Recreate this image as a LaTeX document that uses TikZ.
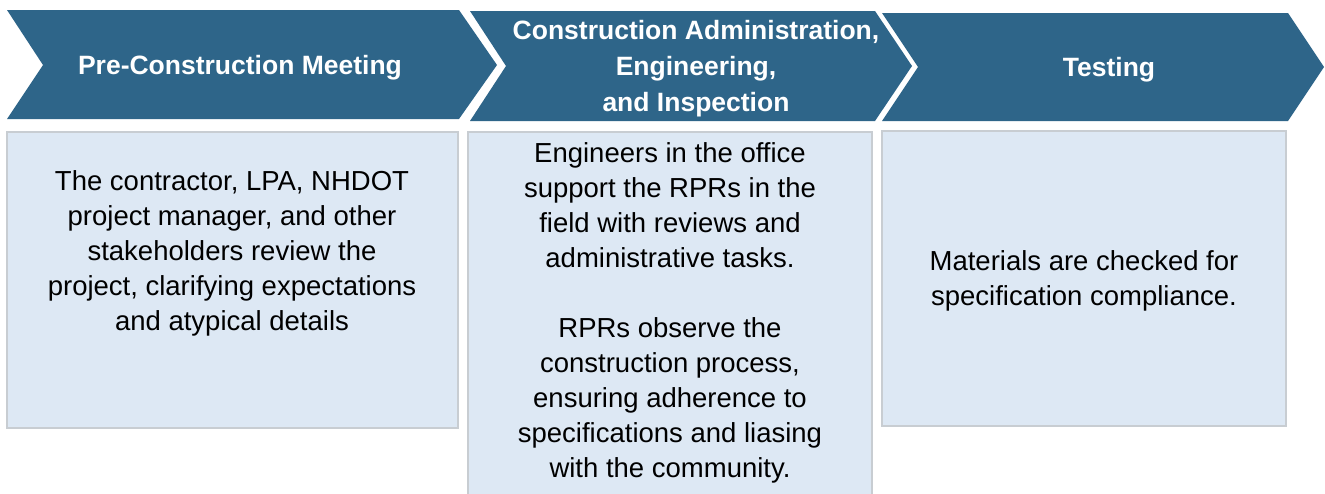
\documentclass[tikz,border=0pt]{standalone}
\usepackage{fontspec}
\setmainfont{Liberation Sans}
\definecolor{chevblue}{HTML}{2E6589}
\definecolor{boxfill}{HTML}{DDE8F4}
\definecolor{boxline}{HTML}{C8CDD2}
\begin{document}
\begin{tikzpicture}[x=1pt,y=-1pt,
  chevron/.style={fill=chevblue, draw=none},
  stepbox/.style={fill=boxfill, draw=boxline, line width=1.5pt},
  headtext/.style={text=white, font=\fontsize{26.5}{36}\selectfont\bfseries, align=center, inner sep=0pt},
  bodytext/.style={text=black, font=\fontsize{27.5}{35}\selectfont, align=center, inner sep=0pt}]
\useasboundingbox (0,0) rectangle (1325,493);
\fill[white] (0,0) rectangle (1325,493);

% process chevrons
\path[chevron] (7,10) -- (459,10) -- (497,65) -- (459,119) -- (7,119) -- (43,65) -- cycle;
\path[chevron] (470,11) -- (875,11) -- (912,66) -- (875,121) -- (470,121) -- (506,66) -- cycle;
\path[chevron] (882,13) -- (1288,13) -- (1324,67) -- (1288,121) -- (882,121) -- (918,67) -- cycle;

\node[headtext] (h1) at (240,68) {Pre-Construction Meeting};
\node[headtext] (h2) at (696,69) {Construction Administration,\\Engineering,\\and Inspection};
\node[headtext] (h3) at (1109,70) {Testing};

% description boxes
\draw[stepbox] (7,132) rectangle (458,428);
\draw[stepbox] (468,132) rectangle (872,500);
\draw[stepbox] (882,131) rectangle (1286,426);

\node[bodytext] (b1) at (232,253) {The contractor, LPA, NHDOT\\project manager, and other\\stakeholders review the\\project, clarifying expectations\\and atypical details};
\node[bodytext] (b2) at (670,313) {Engineers in the office\\support the RPRs in the\\field with reviews and\\administrative tasks.\\[35pt]RPRs observe the\\construction process,\\ensuring adherence to\\specifications and liasing\\with the community.};
\node[bodytext] (b3) at (1084,281) {Materials are checked for\\specification compliance.};
\end{tikzpicture}
\end{document}
